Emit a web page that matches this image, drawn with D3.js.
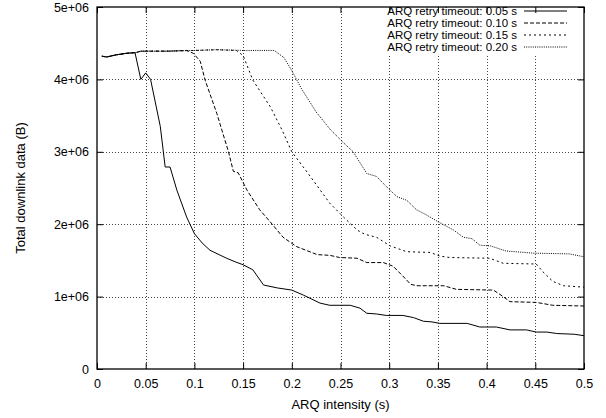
<!DOCTYPE html>
<html lang="en">
<head>
  <meta charset="UTF-8">
  <title>ARQ intensity vs downlink data</title>
  <style>
    body { margin: 0; background: #fff; }
    svg text { font-family: "Liberation Sans", Arial, sans-serif; font-size: 12.5px; fill: #000; }
  </style>
</head>
<body>
  <script src="https://d3js.org/d3.v7.min.js"></script>
  <script>
    // tick values
    const xTicks = [0, 0.05, 0.1, 0.15, 0.2, 0.25, 0.3, 0.35, 0.4, 0.45, 0.5];
    const yTicks = [0, 1e6, 2e6, 3e6, 4e6, 5e6];
    const yTickLabels = ['0', '1e+06', '2e+06', '3e+06', '4e+06', '5e+06'];

    const seriesNames = ['ARQ retry timeout: 0.05 s', 'ARQ retry timeout: 0.10 s',
                         'ARQ retry timeout: 0.15 s', 'ARQ retry timeout: 0.20 s'];

    // [ARQ intensity (s), total downlink data (B)]
    const t005 = [
      [0.005, 4.32e6], [0.01, 4.31e6], [0.02, 4.34e6], [0.03, 4.36e6], [0.039, 4.37e6],
      [0.045, 4.0e6], [0.05, 4.09e6], [0.055, 4.0e6], [0.065, 3.35e6], [0.07, 2.79e6],
      [0.075, 2.79e6], [0.082, 2.47e6], [0.092, 2.1e6], [0.1, 1.87e6], [0.108, 1.74e6],
      [0.116, 1.64e6], [0.133, 1.53e6], [0.142, 1.48e6], [0.15, 1.44e6], [0.16, 1.37e6],
      [0.171, 1.16e6], [0.185, 1.12e6], [0.2, 1.09e6], [0.212, 1.02e6], [0.229, 0.91e6],
      [0.239, 0.88e6], [0.26, 0.88e6], [0.27, 0.84e6], [0.277, 0.77e6], [0.287, 0.76e6],
      [0.297, 0.74e6], [0.314, 0.74e6], [0.325, 0.71e6], [0.335, 0.66e6], [0.344, 0.65e6],
      [0.352, 0.63e6], [0.38, 0.63e6], [0.393, 0.58e6], [0.41, 0.58e6], [0.424, 0.54e6],
      [0.441, 0.54e6], [0.451, 0.51e6], [0.462, 0.51e6], [0.472, 0.49e6], [0.49, 0.48e6],
      [0.5, 0.46e6]
    ];
    const t010 = [
      [0.005, 4.32e6], [0.01, 4.31e6], [0.02, 4.34e6], [0.03, 4.36e6], [0.04, 4.37e6],
      [0.045, 4.39e6], [0.06, 4.39e6], [0.075, 4.39e6], [0.092, 4.4e6], [0.099, 4.36e6],
      [0.106, 4.25e6], [0.111, 3.99e6], [0.123, 3.53e6], [0.135, 3.0e6], [0.14, 2.73e6],
      [0.145, 2.71e6], [0.154, 2.47e6], [0.167, 2.2e6], [0.178, 2.03e6], [0.191, 1.82e6],
      [0.205, 1.69e6], [0.226, 1.58e6], [0.239, 1.57e6], [0.249, 1.54e6], [0.267, 1.53e6],
      [0.277, 1.47e6], [0.294, 1.47e6], [0.304, 1.42e6], [0.315, 1.27e6], [0.322, 1.17e6],
      [0.328, 1.15e6], [0.356, 1.15e6], [0.369, 1.1e6], [0.407, 1.09e6], [0.417, 1.0e6],
      [0.424, 0.93e6], [0.451, 0.92e6], [0.468, 0.88e6], [0.5, 0.87e6]
    ];
    const t015 = [
      [0.005, 4.32e6], [0.01, 4.31e6], [0.02, 4.34e6], [0.03, 4.36e6], [0.04, 4.37e6],
      [0.045, 4.39e6], [0.07, 4.39e6], [0.1, 4.4e6], [0.123, 4.41e6], [0.143, 4.4e6],
      [0.15, 4.33e6], [0.16, 3.99e6], [0.178, 3.62e6], [0.19, 3.3e6], [0.2, 3.0e6],
      [0.219, 2.66e6], [0.239, 2.29e6], [0.253, 2.1e6], [0.267, 1.92e6], [0.275, 1.86e6],
      [0.287, 1.82e6], [0.301, 1.7e6], [0.318, 1.62e6], [0.342, 1.61e6], [0.352, 1.56e6],
      [0.362, 1.54e6], [0.403, 1.53e6], [0.417, 1.46e6], [0.451, 1.45e6], [0.458, 1.34e6],
      [0.468, 1.21e6], [0.479, 1.15e6], [0.5, 1.13e6]
    ];
    const t020 = [
      [0.005, 4.32e6], [0.01, 4.31e6], [0.02, 4.34e6], [0.03, 4.36e6], [0.04, 4.37e6],
      [0.045, 4.39e6], [0.07, 4.39e6], [0.1, 4.4e6], [0.123, 4.41e6], [0.15, 4.4e6],
      [0.182, 4.4e6], [0.192, 4.3e6], [0.2, 4.12e6], [0.21, 3.87e6], [0.225, 3.55e6],
      [0.24, 3.3e6], [0.255, 3.1e6], [0.263, 3.0e6], [0.277, 2.7e6], [0.287, 2.66e6],
      [0.297, 2.52e6], [0.308, 2.38e6], [0.318, 2.33e6], [0.328, 2.2e6], [0.338, 2.13e6],
      [0.352, 2.02e6], [0.366, 1.92e6], [0.376, 1.82e6], [0.385, 1.8e6], [0.393, 1.71e6],
      [0.404, 1.7e6], [0.42, 1.63e6], [0.448, 1.6e6], [0.485, 1.59e6], [0.5, 1.55e6]
    ];

    const allSeries = [t005, t010, t015, t020];
    const dashes = [null, '4,2', '2,3', '1,1.2'];

    const W = 606, H = 418;
    const M = { left: 97, right: 22, top: 7, bottom: 49 };

    const svg = d3.select('body').append('svg')
      .attr('width', W).attr('height', H);

    const x = d3.scaleLinear().domain([0, 0.5]).range([M.left, W - M.right]);
    const y = d3.scaleLinear().domain([0, 5e6]).range([H - M.bottom, M.top]);

    // grid (dotted)
    const grid = svg.append('g').attr('stroke', '#444').attr('stroke-dasharray', '1,2').attr('stroke-width', 1);
    grid.selectAll('.gx').data(xTicks.slice(1, -1)).enter().append('line')
      .attr('x1', d => Math.round(x(d)) + 0.5).attr('x2', d => Math.round(x(d)) + 0.5)
      .attr('y1', y(0)).attr('y2', y(5e6));
    grid.selectAll('.gy').data(yTicks.slice(1, -1)).enter().append('line')
      .attr('y1', d => Math.round(y(d)) + 0.5).attr('y2', d => Math.round(y(d)) + 0.5)
      .attr('x1', x(0)).attr('x2', x(0.5));

    // key area blanks the grid behind it
    svg.append('rect').attr('x', 382).attr('y', y(5e6) + 1)
      .attr('width', x(0.5) - 383).attr('height', 46).attr('fill', '#fff');

    // axes with inward ticks, mirrored like gnuplot
    const fmtY = (d, i) => yTickLabels[i];
    svg.append('g').attr('transform', `translate(0,${y(0)})`)
      .call(d3.axisBottom(x).tickValues(xTicks).tickSize(-6).tickPadding(10).tickFormat(d3.format('')))
      .call(g => g.select('.domain').remove());
    svg.append('g').attr('transform', `translate(0,${y(5e6)})`)
      .call(d3.axisTop(x).tickValues(xTicks).tickSize(-6).tickFormat(''))
      .call(g => g.select('.domain').remove());
    svg.append('g').attr('transform', `translate(${x(0)},0)`)
      .call(d3.axisLeft(y).tickValues(yTicks).tickSize(-6).tickPadding(8).tickFormat(fmtY))
      .call(g => g.select('.domain').remove());
    svg.append('g').attr('transform', `translate(${x(0.5)},0)`)
      .call(d3.axisRight(y).tickValues(yTicks).tickSize(-6).tickFormat(''))
      .call(g => g.select('.domain').remove());
    svg.selectAll('.tick text').style('font-size', '12.5px').style('font-family', '"Liberation Sans", Arial, sans-serif');

    // border
    svg.append('rect')
      .attr('x', x(0)).attr('y', y(5e6))
      .attr('width', x(0.5) - x(0)).attr('height', y(0) - y(5e6))
      .attr('fill', 'none').attr('stroke', '#000').attr('stroke-width', 1.3);

    // series
    const line = d3.line().x(d => x(d[0])).y(d => y(d[1]));
    svg.selectAll('.series').data(allSeries).enter().append('path')
      .attr('d', line)
      .attr('fill', 'none').attr('stroke', '#000').attr('stroke-width', 1)
      .attr('stroke-dasharray', (d, i) => dashes[i]);

    // legend
    const leg = svg.append('g');
    seriesNames.forEach((name, i) => {
      const ly = 11 + i * 12;
      leg.append('text').attr('x', 517).attr('y', ly + 4).attr('text-anchor', 'end')
        .style('font-size', '11.5px').text(name);
      leg.append('line').attr('x1', 524).attr('x2', 567).attr('y1', ly).attr('y2', ly)
        .attr('stroke', '#000').attr('stroke-width', 1).attr('stroke-dasharray', dashes[i]);
    });

    // axis titles
    svg.append('text').attr('x', (x(0) + x(0.5)) / 2).attr('y', 409).attr('text-anchor', 'middle')
      .style('font-size', '13px').text('ARQ intensity (s)');
    svg.append('text').attr('transform', `translate(25,${(y(0) + y(5e6)) / 2}) rotate(-90)`)
      .attr('text-anchor', 'middle').style('font-size', '13px').text('Total downlink data (B)');
  </script>
</body>
</html>
